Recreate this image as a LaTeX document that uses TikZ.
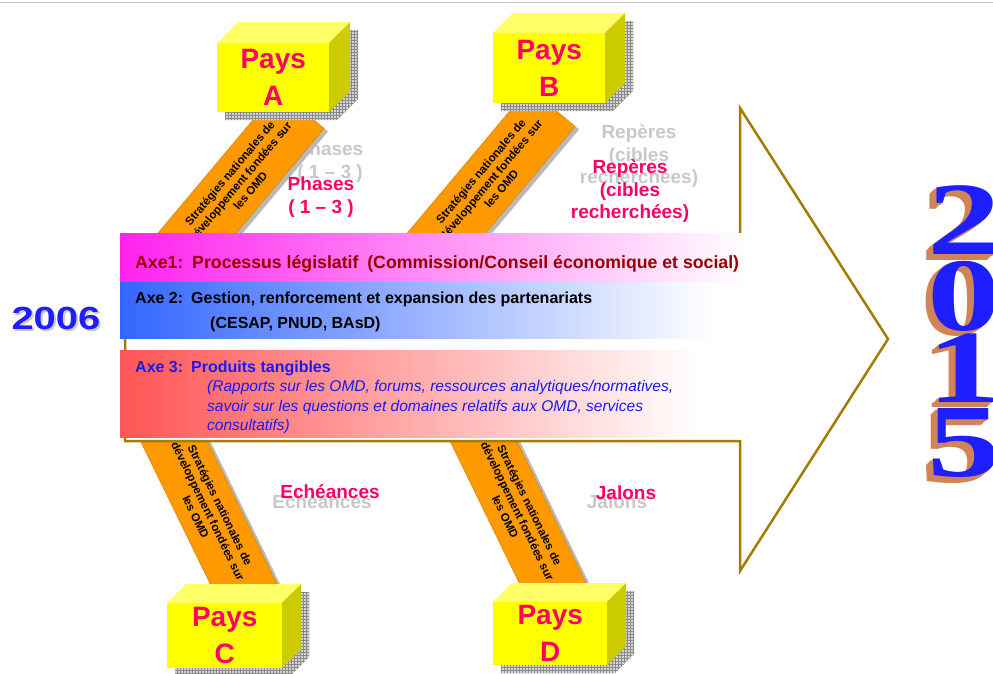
\documentclass[tikz,border=0pt]{standalone}
\usepackage{fontspec}
\setmainfont{Liberation Sans}
\newfontfamily\yearfont{Liberation Serif}
\usepackage{tikz}
\usetikzlibrary{patterns,calc}
\definecolor{frame}{HTML}{A67C00}
\definecolor{paysyellow}{HTML}{FFFF00}
\definecolor{paystop}{HTML}{FFFF66}
\definecolor{paysside}{HTML}{CCCC00}
\definecolor{paysred}{HTML}{FF0066}
\definecolor{stripfill}{HTML}{FF9900}
\definecolor{stripedge}{HTML}{D98200}
\definecolor{ghost}{HTML}{C8C8C8}
\definecolor{axeone}{HTML}{FF22EE}
\definecolor{axetwo}{HTML}{3366FF}
\definecolor{axethree}{HTML}{FF5555}
\definecolor{axeonetext}{HTML}{990000}
\definecolor{axethreetext}{HTML}{1A1AF0}
\definecolor{yearblue}{HTML}{1E1EFF}
\definecolor{copper}{HTML}{D08458}
\definecolor{shadowgray}{HTML}{D4D4D4}
\definecolor{gridgray}{HTML}{8A8A8A}
% name, north-west corner, width, height, depth, letter
\newcommand{\paysbox}[6]{%
  \begin{scope}[shift={#2}]
    \fill[boxshadow] (8,8) -- ++(#5,-#5) -- ++(#3,0) -- ++(0,#4) -- ++(-#5,#5) -- ++(-#3,0) -- cycle;
    \fill[boxtop] (0,0) -- ++(#5,-#5) -- ++(#3,0) -- ++(-#5,#5) -- cycle;
    \fill[boxside] (#3,0) -- ++(#5,-#5) -- ++(0,#4) -- ++(-#5,#5) -- cycle;
    \node[boxfront,minimum width=#3pt,minimum height=#4pt,anchor=north west] (#1) at (0,0) {Pays\\#6};
  \end{scope}}
\tikzset{
  topline/.style={draw=gray!45,line width=1.2pt},
  boxfront/.style={fill=paysyellow,text=paysred,align=center,inner sep=0pt,font=\bfseries\fontsize{28}{37}\selectfont},
  boxtop/.style={fill=paystop},
  boxside/.style={fill=paysside},
  boxshadow/.style={pattern=grid,pattern color=gridgray,preaction={fill=shadowgray}},
  strip/.style={fill=stripfill,draw=stripedge,line width=0.5pt,minimum width=190pt,minimum height=60pt,
    align=center,inner sep=0pt,text=black,font=\bfseries\fontsize{11.5}{13.5}\selectfont},
  stripshadow/.style={fill=gray!55,minimum width=190pt,minimum height=60pt,inner sep=0pt},
  bigarrow/.style={draw=frame,line width=2.5pt,fill=white,line join=miter},
  band/.style={anchor=north west,right color=white,inner sep=0pt},
  axetext/.style={anchor=base west,inner sep=0pt,font=\bfseries\fontsize{16}{19}\selectfont},
  axeitalic/.style={anchor=base west,inner sep=0pt,text=axethreetext,font=\itshape\fontsize{15.5}{19}\selectfont},
  pinklabel/.style={text=paysred,align=center,inner sep=0pt,font=\bfseries\fontsize{19}{22.5}\selectfont},
  ghostlabel/.style={pinklabel,text=ghost},
  yearfront/.style={text=yearblue,inner sep=0pt,xscale=1.42,font=\yearfont\bfseries\fontsize{104}{104}\selectfont},
  yearback/.style={yearfront,text=copper}
}
\begin{document}
\begin{tikzpicture}[x=1pt,y=-1pt]
  \useasboundingbox (0,0) rectangle (993,673);
  \clip (0,0) rectangle (993,673);
  \draw[topline] (0,2.5) -- (993,2.5);
  % grey copies of the labels
  \node[ghostlabel] (phasesg) at (330,162) {Phases\\( 1 – 3 )};
  \node[ghostlabel] (reperesg) at (639,156) {Repères\\(cibles\\recherchées)};
  \node[ghostlabel] (echeancesg) at (322,502) {Echéances};
  \node[ghostlabel] (jalonsg) at (617,502) {Jalons};
  % orange strips
  \node[stripshadow,rotate=50] (sAsh) at (244,185) {};
  \node[strip,rotate=50] (sA) at (240,182) {Stratégies nationales de\\développement fondées sur\\les OMD};
  \node[stripshadow,rotate=50] (sBsh) at (495,183) {};
  \node[strip,rotate=50] (sB) at (491,180) {Stratégies nationales de\\développement fondées sur\\les OMD};
  \node[stripshadow,rotate=-64] (sCsh) at (212,513) {};
  \node[strip,rotate=-64] (sC) at (208,511) {Stratégies nationales de\\développement fondées sur\\les OMD};
  \node[stripshadow,rotate=-64] (sDsh) at (521.5,513) {};
  \node[strip,rotate=-64] (sD) at (517.5,511) {Stratégies nationales de\\développement fondées sur\\les OMD};
  % the big arrow
  \draw[bigarrow] (125,236) -- (740,236) -- (740,108) -- (888,339) -- (740,571) -- (740,441) -- (125,441) -- cycle;
  % axes
  \node[band,left color=axeone,minimum width=628pt,minimum height=49pt] (axe1) at (120,233) {};
  \node[band,left color=axetwo,minimum width=592pt,minimum height=56pt] (axe2) at (120,282) {};
  \node[band,left color=axethree,minimum width=577pt,minimum height=87pt] (axe3) at (120,350) {};
  \node[axetext,text=axeonetext,font=\bfseries\fontsize{17.7}{20}\selectfont] (t1) at (135,268)
    {Axe1:\hspace{0.5em}Processus législatif\hspace{0.5em}(Commission/Conseil économique et social)};
  \node[axetext] (t2a) at (135,303) {Axe 2:\hspace{0.5em}Gestion, renforcement et expansion des partenariats};
  \node[axetext] (t2b) at (210,328) {(CESAP, PNUD, BAsD)};
  \node[axetext,text=axethreetext] (t3a) at (135,372) {Axe 3:\hspace{0.5em}Produits tangibles};
  \node[axeitalic] (t3b) at (207,391) {(Rapports sur les OMD, forums, ressources analytiques/normatives,};
  \node[axeitalic] (t3c) at (207,411) {savoir sur les questions et domaines relatifs aux OMD, services};
  \node[axeitalic] (t3d) at (207,430) {consultatifs)};
  % countries
  \paysbox{pA}{(217,43)}{112}{69}{21}{A}
  \paysbox{pB}{(493,33)}{112}{70}{20}{B}
  \paysbox{pC}{(167,603)}{115}{65}{19}{C}
  \paysbox{pD}{(493,602)}{114}{63}{19}{D}
  % labels
  \node[pinklabel] (phases) at (321,197) {Phases\\( 1 – 3 )};
  \node[pinklabel] (reperes) at (630,191) {Repères\\(cibles\\recherchées)};
  \node[pinklabel] (echeances) at (330,492) {Echéances};
  \node[pinklabel] (jalons) at (626,493) {Jalons};
  % years
  \node[text=gray!40,xscale=1.25,font=\bfseries\fontsize{32}{36}\selectfont] (y2006s) at (58,320) {2006};
  \node[text=yearblue,xscale=1.25,font=\bfseries\fontsize{32}{36}\selectfont] (y2006) at (56,318) {2006};
  \foreach \dg/\yy [count=\i] in {2/220,0/296,1/368,5/443} {
    \foreach \k in {7,6,...,1}
      \node[yearback] (c\i-\k) at (964-\k,\yy+0.8*\k) {\dg};
    \node[yearfront] (d\i) at (964,\yy) {\dg};
  }
\end{tikzpicture}
\end{document}
